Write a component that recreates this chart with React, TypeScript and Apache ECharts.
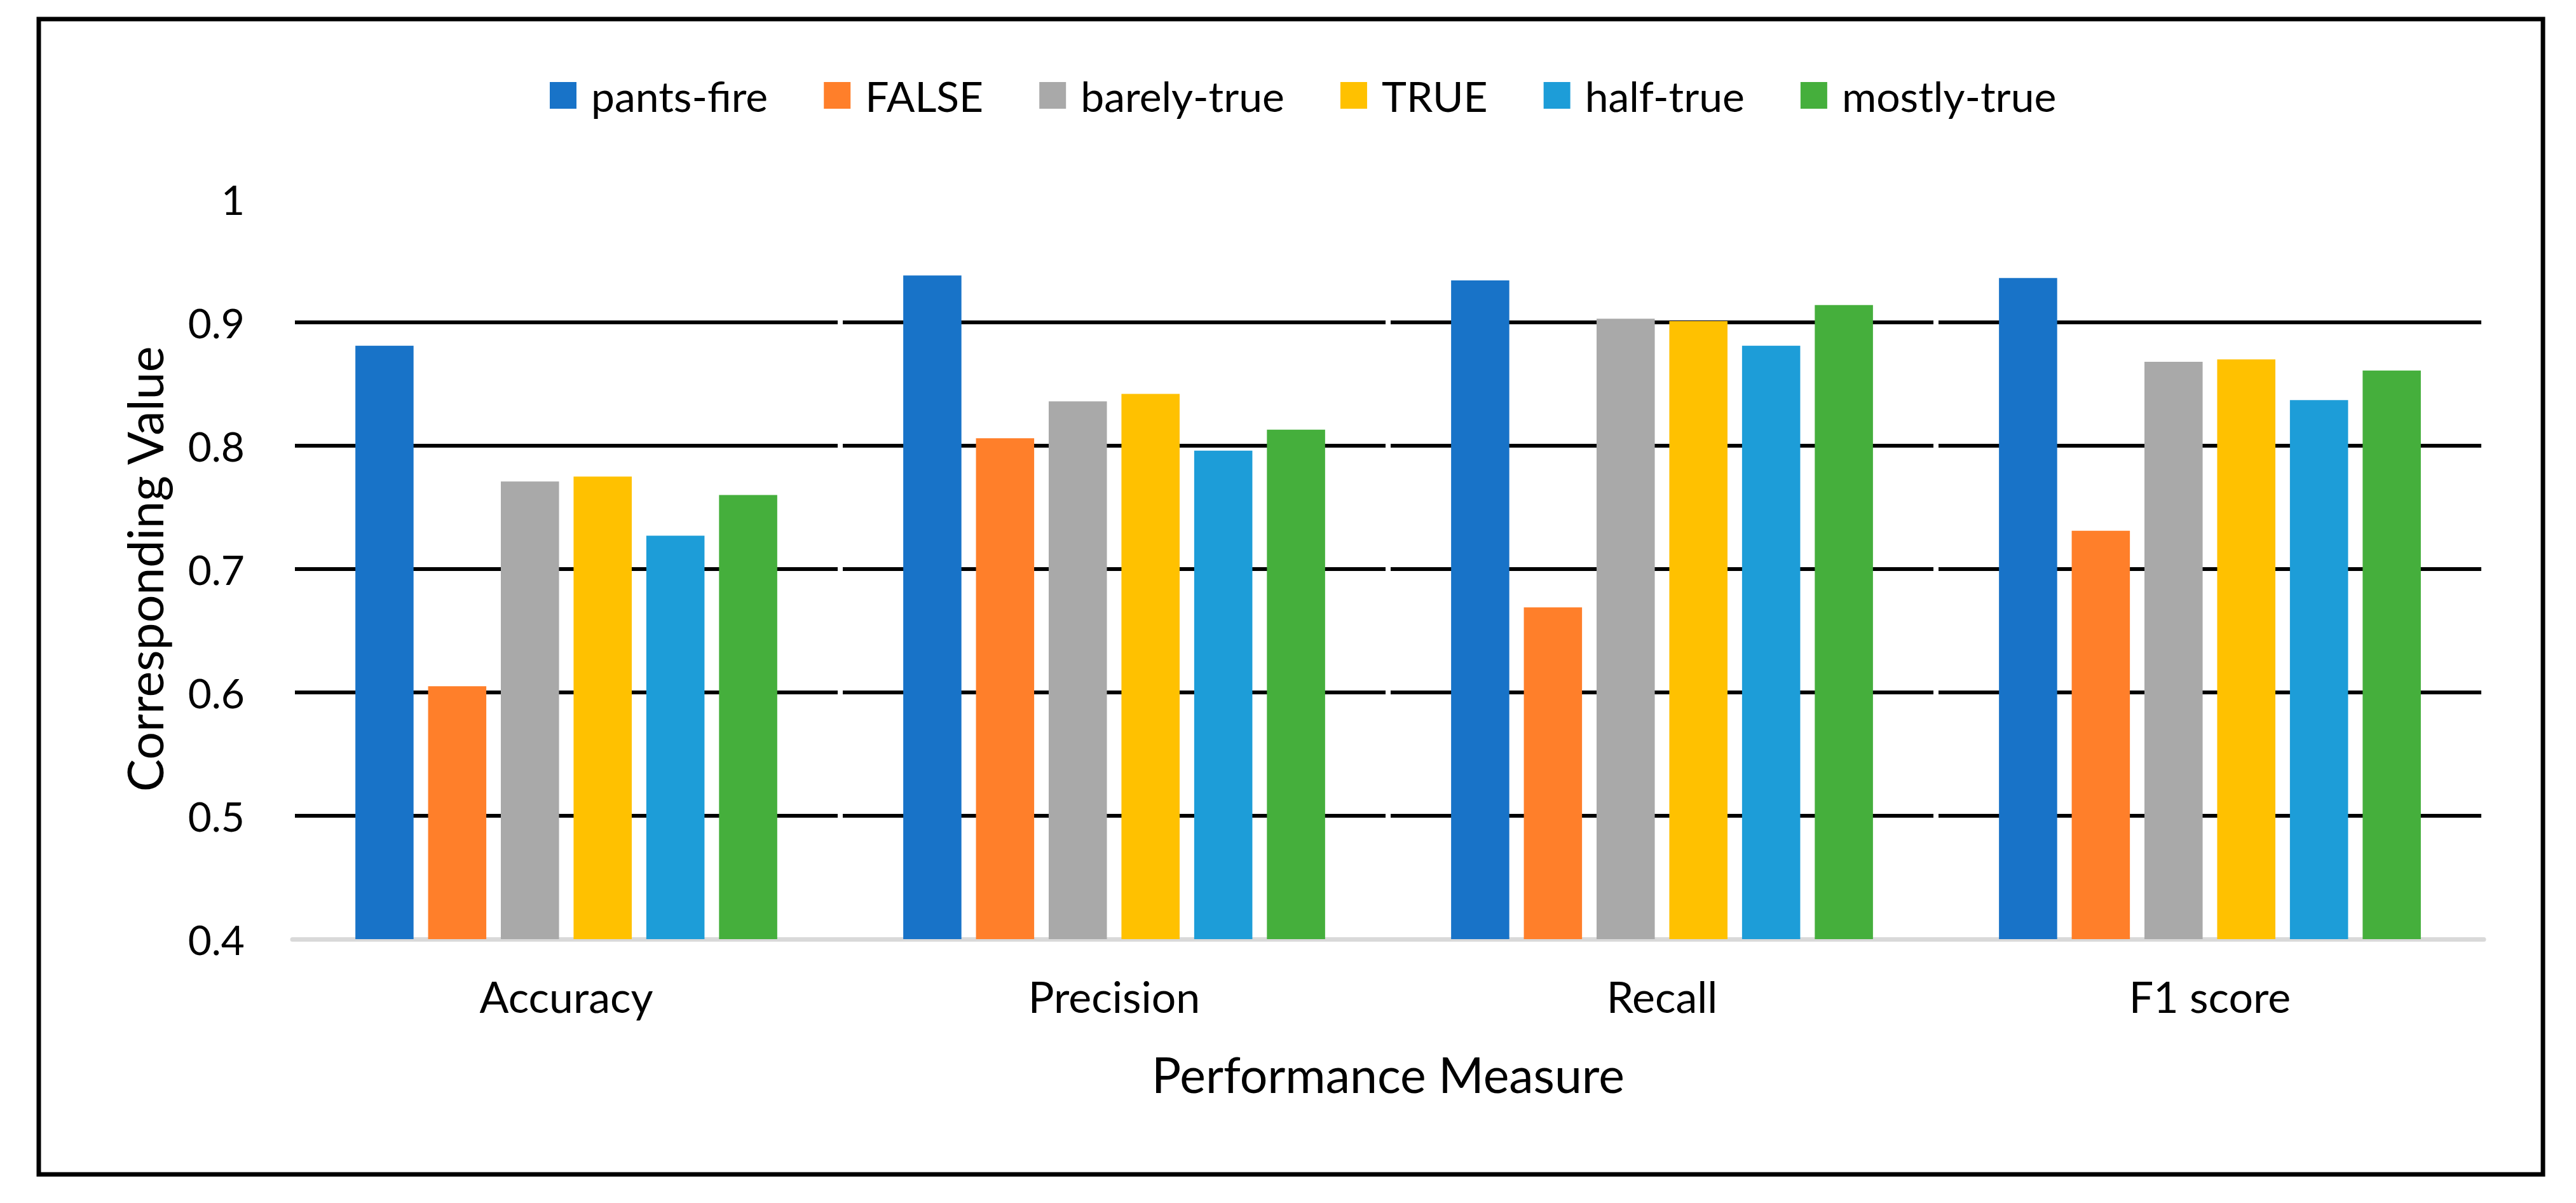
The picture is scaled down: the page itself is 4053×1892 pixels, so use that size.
import React, { useEffect, useRef } from "react";
import * as echarts from "echarts";

const categories = ["Accuracy", "Precision", "Recall", "F1 score"];
const seriesNames = ["pants-fire", "FALSE", "barely-true", "TRUE", "half-true", "mostly-true"];
const pantsFire = [0.881, 0.938, 0.934, 0.936];
const falseVals = [0.605, 0.806, 0.669, 0.731];
const barelyTrue = [0.771, 0.836, 0.903, 0.868];
const trueVals = [0.775, 0.842, 0.901, 0.870];
const halfTrue = [0.727, 0.796, 0.881, 0.837];
const mostlyTrue = [0.760, 0.813, 0.914, 0.861];
const colors = ["#1873C8", "#FF7F2A", "#A9A9A9", "#FFC100", "#1D9DD8", "#45AF3C"];
const yMin = 0.4;
const yMax = 1;
const yStep = 0.1;

const FONT = 'Lato, "Open Sans", "DejaVu Sans", sans-serif';

export default function App() {
  const ref = useRef<HTMLDivElement>(null);
  useEffect(() => {
    document.body.style.margin = "0";
    const chart = echarts.init(ref.current!, undefined, { renderer: "svg" });
    const values = [pantsFire, falseVals, barelyTrue, trueVals, halfTrue, mostlyTrue];
    chart.setOption({
      animation: false,
      backgroundColor: "#ffffff",
      textStyle: { fontFamily: FONT },
      graphic: [
        {
          type: "rect",
          shape: { x: 61, y: 30, width: 3940, height: 1817 },
          style: { fill: "none", stroke: "#000", lineWidth: 7 },
          z: 10,
        },
      ],
      legend: {
        data: seriesNames,
        left: 860,
        top: 112,
        icon: "rect",
        itemWidth: 42,
        itemHeight: 42,
        itemGap: 88,
        textStyle: { fontSize: 66, color: "#000", fontFamily: FONT, padding: [0, 0, 0, 18] },
      },
      grid: { left: 460, right: 145, top: 313, bottom: 415, containLabel: false },
      xAxis: {
        type: "category",
        data: categories,
        z: 1,
        axisLine: { show: true, lineStyle: { color: "#D9D9D9", width: 7 } },
        axisTick: { show: false },
        splitLine: { show: true, lineStyle: { color: "#ffffff", width: 8 } },
        axisLabel: { fontSize: 68, color: "#000", margin: 55, fontFamily: FONT },
        name: "Performance Measure",
        nameLocation: "middle",
        nameGap: 173,
        nameTextStyle: { fontSize: 77, color: "#000", fontFamily: FONT },
      },
      yAxis: {
        type: "value",
        min: yMin,
        max: yMax,
        interval: yStep,
        z: 0,
        axisLine: { show: false },
        axisTick: { show: false },
        splitLine: {
          show: true,
          showMinLine: false,
          showMaxLine: false,
          lineStyle: { color: "#000", width: 6 },
        },
        axisLabel: { fontSize: 64, color: "#000", margin: 75, fontFamily: FONT },
        name: "Corresponding Value",
        nameLocation: "middle",
        nameGap: 195,
        nameTextStyle: { fontSize: 77, color: "#000", fontFamily: FONT },
      },
      series: seriesNames.map((n, i) => ({
        name: n,
        type: "bar",
        data: values[i],
        z: 3,
        barGap: "25%",
        barCategoryGap: "23%",
        itemStyle: { color: colors[i] },
      })),
    });
    return () => chart.dispose();
  }, []);
  return <div ref={ref} style={{ width: 4053, height: 1892 }} />;
}
